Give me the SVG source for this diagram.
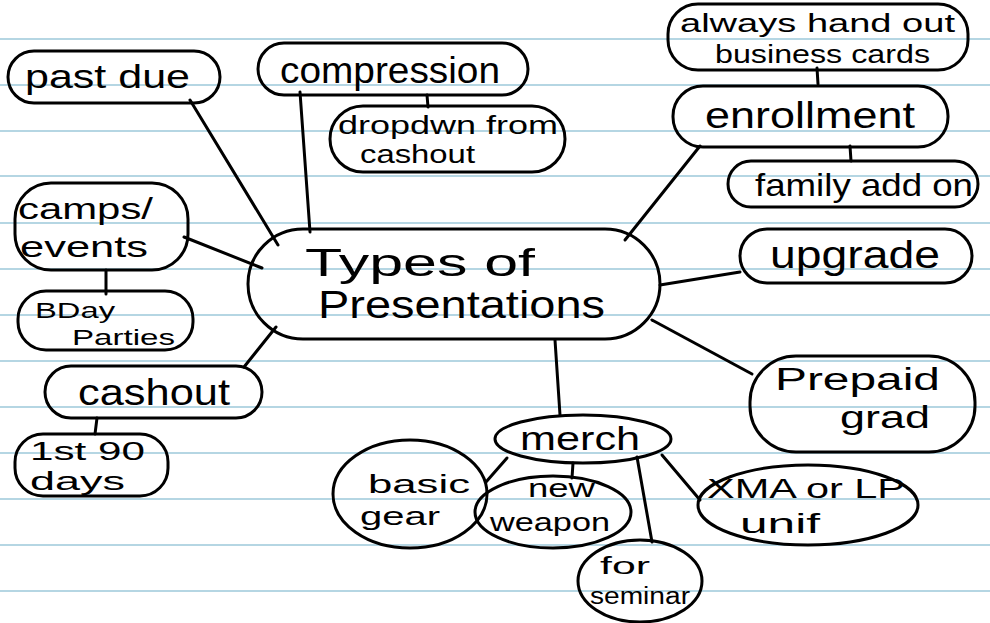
<svg xmlns="http://www.w3.org/2000/svg" width="990" height="623" viewBox="0 0 990 623">
<style>
.ruled{stroke:#9cc9da;stroke-width:1.6}
.n{fill:none;stroke:#000;stroke-width:3;stroke-linecap:round;stroke-linejoin:round}
.c{fill:none;stroke:#000;stroke-width:3;stroke-linecap:round}
text{font-family:"Liberation Sans",Arial,sans-serif;fill:#000}
</style>
<rect width="990" height="623" fill="#fff"/>
<g id="paper">
<line class="ruled" x1="0" y1="39" x2="990" y2="39"/>
<line class="ruled" x1="0" y1="85" x2="990" y2="85"/>
<line class="ruled" x1="0" y1="131" x2="990" y2="131"/>
<line class="ruled" x1="0" y1="176" x2="990" y2="176"/>
<line class="ruled" x1="0" y1="223" x2="990" y2="223"/>
<line class="ruled" x1="0" y1="269" x2="990" y2="269"/>
<line class="ruled" x1="0" y1="315" x2="990" y2="315"/>
<line class="ruled" x1="0" y1="361" x2="990" y2="361"/>
<line class="ruled" x1="0" y1="407" x2="990" y2="407"/>
<line class="ruled" x1="0" y1="453" x2="990" y2="453"/>
<line class="ruled" x1="0" y1="499" x2="990" y2="499"/>
<line class="ruled" x1="0" y1="545" x2="990" y2="545"/>
<line class="ruled" x1="0" y1="591" x2="990" y2="591"/>
</g>
<g id="connectors">
<line class="c" x1="190" y1="100" x2="278" y2="245"/>
<line class="c" x1="300" y1="92" x2="310" y2="232"/>
<line class="c" x1="427" y1="95" x2="428" y2="107"/>
<line class="c" x1="817" y1="68" x2="818" y2="84"/>
<line class="c" x1="700" y1="146" x2="625" y2="240"/>
<line class="c" x1="850" y1="146" x2="851" y2="161"/>
<line class="c" x1="740" y1="272" x2="660" y2="285"/>
<line class="c" x1="752" y1="374" x2="652" y2="320"/>
<line class="c" x1="555" y1="340" x2="560" y2="415"/>
<line class="c" x1="184" y1="237" x2="262" y2="268"/>
<line class="c" x1="106" y1="270" x2="106" y2="294"/>
<line class="c" x1="244" y1="367" x2="276" y2="327"/>
<line class="c" x1="97" y1="418" x2="95" y2="434"/>
<line class="c" x1="507" y1="458" x2="486" y2="482"/>
<line class="c" x1="573" y1="463" x2="572" y2="478"/>
<line class="c" x1="637" y1="457" x2="652" y2="542"/>
<line class="c" x1="662" y1="455" x2="700" y2="500"/>
</g>
<g id="center">
<rect class="n" x="248" y="229" width="412" height="110" rx="55"/>
<text x="305" y="276" font-size="38" textLength="230" lengthAdjust="spacingAndGlyphs">Types of</text>
<text x="318" y="318" font-size="38" textLength="287" lengthAdjust="spacingAndGlyphs">Presentations</text>
</g>
<g id="past-due">
<rect class="n" x="8" y="51" width="212" height="52" rx="26"/>
<text x="25" y="88" font-size="34" textLength="165" lengthAdjust="spacingAndGlyphs">past due</text>
</g>
<g id="compression">
<rect class="n" x="258" y="43" width="270" height="52" rx="26"/>
<text x="280" y="83" font-size="36" textLength="220" lengthAdjust="spacingAndGlyphs">compression</text>
</g>
<g id="dropdown">
<rect class="n" x="330" y="106" width="235" height="66" rx="33"/>
<text x="338" y="134" font-size="25" textLength="220" lengthAdjust="spacingAndGlyphs">dropdwn from</text>
<text x="360" y="163" font-size="25" textLength="115" lengthAdjust="spacingAndGlyphs">cashout</text>
</g>
<g id="always">
<rect class="n" x="668" y="4" width="300" height="66" rx="30"/>
<text x="680" y="32" font-size="26" textLength="275" lengthAdjust="spacingAndGlyphs">always hand out</text>
<text x="715" y="63" font-size="25" textLength="215" lengthAdjust="spacingAndGlyphs">business cards</text>
</g>
<g id="enrollment">
<rect class="n" x="673" y="86" width="275" height="61" rx="30"/>
<text x="705" y="128" font-size="36" textLength="210" lengthAdjust="spacingAndGlyphs">enrollment</text>
</g>
<g id="family">
<rect class="n" x="728" y="161" width="250" height="46" rx="23"/>
<text x="755" y="196" font-size="32" textLength="218" lengthAdjust="spacingAndGlyphs">family add on</text>
</g>
<g id="upgrade">
<rect class="n" x="740" y="229" width="232" height="54" rx="27"/>
<text x="770" y="268" font-size="38" textLength="170" lengthAdjust="spacingAndGlyphs">upgrade</text>
</g>
<g id="prepaid">
<rect class="n" x="750" y="356" width="225" height="96" rx="46"/>
<text x="775" y="390" font-size="31" textLength="165" lengthAdjust="spacingAndGlyphs">Prepaid</text>
<text x="840" y="428" font-size="31" textLength="90" lengthAdjust="spacingAndGlyphs">grad</text>
</g>
<g id="camps">
<rect class="n" x="15" y="183" width="173" height="87" rx="36"/>
<text x="18" y="219" font-size="29" textLength="135" lengthAdjust="spacingAndGlyphs">camps/</text>
<text x="20" y="257" font-size="29" textLength="128" lengthAdjust="spacingAndGlyphs">events</text>
</g>
<g id="bday">
<rect class="n" x="18" y="291" width="175" height="59" rx="28"/>
<text x="35" y="318" font-size="22" textLength="80" lengthAdjust="spacingAndGlyphs">BDay</text>
<text x="72" y="345" font-size="22" textLength="103" lengthAdjust="spacingAndGlyphs">Parties</text>
</g>
<g id="cashout">
<rect class="n" x="45" y="366" width="217" height="52" rx="26"/>
<text x="78" y="405" font-size="36" textLength="152" lengthAdjust="spacingAndGlyphs">cashout</text>
</g>
<g id="first90">
<rect class="n" x="15" y="434" width="153" height="62" rx="28"/>
<text x="30" y="460" font-size="25" textLength="115" lengthAdjust="spacingAndGlyphs">1st 90</text>
<text x="30" y="490" font-size="25" textLength="95" lengthAdjust="spacingAndGlyphs">days</text>
</g>
<g id="merch">
<ellipse class="n" cx="583" cy="439" rx="88" ry="24"/>
<text x="520" y="450" font-size="34" textLength="120" lengthAdjust="spacingAndGlyphs">merch</text>
</g>
<g id="basic-gear">
<ellipse class="n" cx="410" cy="494" rx="77" ry="54"/>
<text x="368" y="493" font-size="26" textLength="102" lengthAdjust="spacingAndGlyphs">basic</text>
<text x="360" y="525" font-size="26" textLength="80" lengthAdjust="spacingAndGlyphs">gear</text>
</g>
<g id="new-weapon">
<ellipse class="n" cx="553" cy="512" rx="78" ry="36"/>
<text x="528" y="497" font-size="26" textLength="67" lengthAdjust="spacingAndGlyphs">new</text>
<text x="490" y="531" font-size="26" textLength="120" lengthAdjust="spacingAndGlyphs">weapon</text>
</g>
<g id="xma">
<ellipse class="n" cx="808" cy="505" rx="110" ry="40"/>
<text x="707" y="498" font-size="27" textLength="198" lengthAdjust="spacingAndGlyphs">XMA or LP</text>
<text x="740" y="533" font-size="27" textLength="80" lengthAdjust="spacingAndGlyphs">unif</text>
</g>
<g id="for-seminar">
<ellipse class="n" cx="640" cy="581" rx="62" ry="41"/>
<text x="600" y="574" font-size="23" textLength="50" lengthAdjust="spacingAndGlyphs">for</text>
<text x="590" y="604" font-size="23" textLength="100" lengthAdjust="spacingAndGlyphs">seminar</text>
</g>
</svg>
